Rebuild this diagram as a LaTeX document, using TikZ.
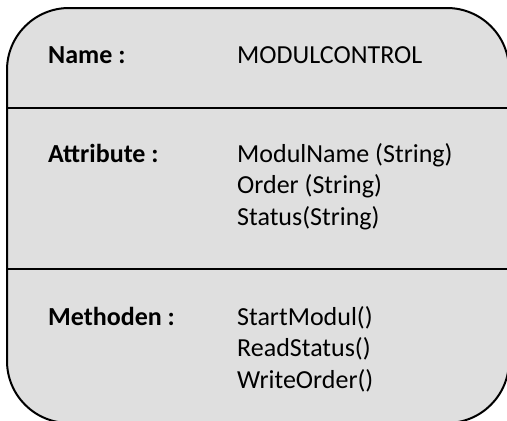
\documentclass[tikz,border=0pt]{standalone}
\usepackage{fontspec}
\setmainfont{Carlito}
\usepackage{tikz}

\definecolor{boxgray}{RGB}{223,223,223}

\tikzset{
  label/.style={font=\fontsize{26}{31.6}\selectfont\bfseries, anchor=base west, inner sep=0pt},
  value/.style={font=\fontsize{26}{31.6}\selectfont, anchor=base west, inner sep=0pt, align=left}
}

\begin{document}
\begin{tikzpicture}[x=1pt,y=-1pt]

\useasboundingbox (0,0) rectangle (507,421);
\clip (0,0) rectangle (507,421);

\draw[line width=2pt, fill=boxgray, rounded corners=62pt] (7,8) rectangle (509,423);

\draw[line width=2pt] (7,108)--(509,108);
\draw[line width=2pt] (7,269)--(509,269);

\node[label] (name) at (48,63) {Name :};
\node[value] (modul) at (237,63) {MODULCONTROL};

% the base of a list is the base of its last line
\node[label] (attr) at (48,162) {Attribute :};
\node[value] (attrlist) at (237,225.2) {ModulName (String)\\Order (String)\\Status(String)};

\node[label] (meth) at (48,325) {Methoden :};
\node[value] (methlist) at (237,388.2) {StartModul()\\ReadStatus()\\WriteOrder()};

\end{tikzpicture}
\end{document}
